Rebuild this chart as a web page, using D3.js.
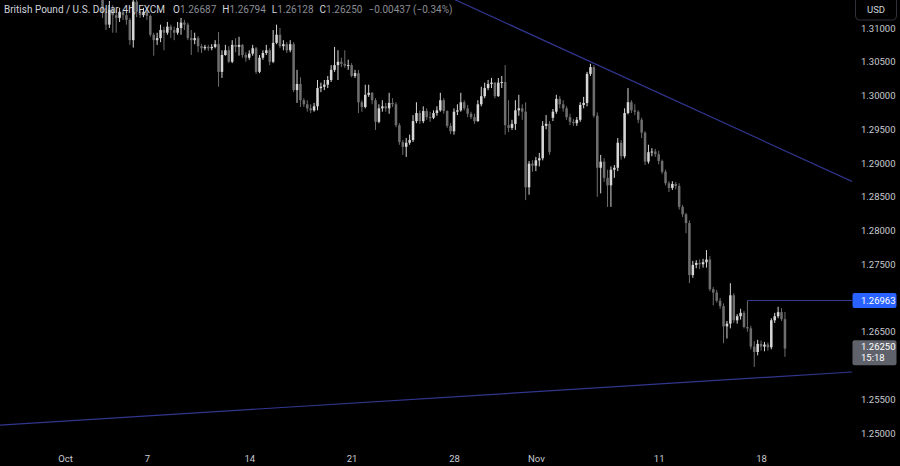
<!DOCTYPE html>
<html><head><meta charset="utf-8">
<script src="https://cdn.jsdelivr.net/npm/d3@7"></script>
<style>html,body{margin:0;padding:0;background:#000;}svg{display:block;}</style>
</head><body><svg id="c" width="900" height="466"></svg>
<script>
// ---- data ----
const firstBarIndex = 29; // bar index (4h bars counted from 26 Sep) of the first visible candle
const opens = [1.3160,1.3124,1.3105,1.3127,1.3119,1.3115,1.3124,1.3119,1.3112,1.3082,1.3139,1.3124,1.3119,1.3124,1.3118,1.3090,1.3082,1.3085,1.3097,1.3093,1.3102,1.3097,1.3093,1.3100,1.3108,1.3105,1.3085,1.3082,1.3085,1.3073,1.3070,1.3072,1.3070,1.3072,1.3076,1.3035,1.3060,1.3067,1.3050,1.3075,1.3072,1.3075,1.3060,1.3056,1.3062,1.3070,1.3035,1.3056,1.3063,1.3067,1.3050,1.3078,1.3090,1.3073,1.3076,1.3067,1.3076,1.3008,1.3017,1.2993,1.2987,1.2981,1.2978,1.2984,1.3011,1.3013,1.3016,1.3023,1.3038,1.3045,1.3050,1.3047,1.3044,1.3045,1.3029,1.3033,1.2990,1.2983,1.3001,1.3004,1.2993,1.2961,1.2981,1.2984,1.2981,1.2989,1.2987,1.2956,1.2931,1.2924,1.2930,1.2934,1.2962,1.2974,1.2962,1.2977,1.2968,1.2967,1.2974,1.2978,1.2993,1.2977,1.2955,1.2947,1.2976,1.2978,1.2990,1.2981,1.2973,1.2968,1.2962,1.2987,1.2999,1.3011,1.3017,1.3019,1.2999,1.3019,1.3020,1.2956,1.2952,1.2958,1.2978,1.2981,1.2976,1.2864,1.2899,1.2896,1.2904,1.2907,1.2955,1.2958,1.2967,1.2976,1.2995,1.2987,1.2981,1.2968,1.2961,1.2959,1.2964,1.2986,1.2989,1.3032,1.3042,1.2970,1.2893,1.2902,1.2878,1.2867,1.2890,1.2893,1.2930,1.2910,1.2974,1.2990,1.2978,1.2976,1.2964,1.2945,1.2902,1.2916,1.2917,1.2913,1.2903,1.2887,1.2870,1.2863,1.2869,1.2866,1.2835,1.2824,1.2811,1.2734,1.2749,1.2752,1.2750,1.2753,1.2757,1.2713,1.2708,1.2696,1.2688,1.2658,1.2662,1.2704,1.2667,1.2673,1.2678,1.2657,1.2655,1.2628,1.2620,1.2632,1.2628,1.2631,1.2627,1.2667,1.2673,1.2679,1.26687];
const highs = [1.3165,1.3130,1.3140,1.3134,1.3127,1.3130,1.3127,1.3124,1.3115,1.3150,1.3143,1.3127,1.3130,1.3127,1.3120,1.3093,1.3093,1.3105,1.3102,1.3109,1.3105,1.3102,1.3109,1.3115,1.3112,1.3108,1.3097,1.3093,1.3088,1.3076,1.3075,1.3075,1.3076,1.3082,1.3094,1.3067,1.3075,1.3073,1.3082,1.3085,1.3087,1.3076,1.3064,1.3067,1.3075,1.3072,1.3060,1.3067,1.3075,1.3070,1.3097,1.3105,1.3100,1.3082,1.3079,1.3082,1.3079,1.3038,1.3027,1.2996,1.2993,1.2987,1.2989,1.3023,1.3019,1.3023,1.3029,1.3045,1.3072,1.3067,1.3056,1.3067,1.3053,1.3048,1.3038,1.3038,1.2993,1.3016,1.3016,1.3005,1.2996,1.2987,1.2993,1.2989,1.3004,1.2996,1.2990,1.2959,1.2934,1.2937,1.2942,1.2971,1.2990,1.2978,1.2984,1.2981,1.2976,1.2978,1.2984,1.3004,1.2996,1.2978,1.2959,1.2981,1.2987,1.3004,1.2993,1.2986,1.2976,1.2973,1.2993,1.3013,1.3019,1.3023,1.3026,1.3020,1.3026,1.3029,1.3045,1.2993,1.2964,1.2993,1.3001,1.2987,1.2990,1.2903,1.2904,1.2909,1.2915,1.2962,1.2971,1.2962,1.2980,1.3001,1.2999,1.2993,1.2984,1.2973,1.2965,1.2968,1.2990,1.2998,1.3035,1.3047,1.3045,1.2975,1.2912,1.2907,1.2890,1.2895,1.2897,1.2937,1.2934,1.2981,1.3011,1.2993,1.2987,1.2978,1.2967,1.2947,1.2927,1.2922,1.2921,1.2918,1.2905,1.2890,1.2873,1.2873,1.2872,1.2870,1.2838,1.2826,1.2815,1.2755,1.2756,1.2757,1.2758,1.2771,1.2762,1.2716,1.2712,1.2700,1.2692,1.2666,1.2722,1.2707,1.2676,1.2684,1.2681,1.26963,1.2659,1.2636,1.2638,1.2637,1.2635,1.2634,1.2670,1.2678,1.2687,1.2685,1.26794];
const lows = [1.3115,1.3097,1.3100,1.3093,1.3093,1.3109,1.3112,1.3105,1.3075,1.3071,1.3116,1.3115,1.3116,1.3112,1.3087,1.3059,1.3075,1.3079,1.3067,1.3090,1.3085,1.3082,1.3090,1.3090,1.3097,1.3082,1.3060,1.3076,1.3064,1.3063,1.3067,1.3066,1.3067,1.3070,1.3013,1.3026,1.3059,1.3048,1.3048,1.3064,1.3059,1.3056,1.3050,1.3053,1.3059,1.3032,1.3033,1.3053,1.3060,1.3045,1.3048,1.3076,1.3070,1.3067,1.3063,1.3064,1.3005,1.2989,1.2983,1.2983,1.2976,1.2974,1.2976,1.2978,1.3005,1.3008,1.3011,1.3020,1.3035,1.3023,1.3042,1.3041,1.3038,1.3027,1.3026,1.2974,1.2976,1.2981,1.2998,1.2987,1.2949,1.2959,1.2976,1.2976,1.2973,1.2983,1.2953,1.2927,1.2912,1.2909,1.2927,1.2931,1.2959,1.2958,1.2959,1.2964,1.2961,1.2965,1.2970,1.2976,1.2973,1.2952,1.2943,1.2942,1.2971,1.2976,1.2978,1.2968,1.2965,1.2958,1.2961,1.2984,1.2996,1.3008,1.3011,1.2996,1.2998,1.3011,1.2942,1.2946,1.2949,1.2949,1.2970,1.2964,1.2845,1.2853,1.2887,1.2888,1.2895,1.2904,1.2950,1.2912,1.2962,1.2973,1.2981,1.2976,1.2964,1.2956,1.2955,1.2955,1.2961,1.2981,1.2984,1.3029,1.2967,1.2850,1.2855,1.2872,1.2835,1.2835,1.2878,1.2888,1.2905,1.2907,1.2972,1.2974,1.2971,1.2959,1.2937,1.2897,1.2899,1.2910,1.2909,1.2898,1.2884,1.2867,1.2857,1.2860,1.2861,1.2831,1.2820,1.2796,1.2722,1.2730,1.2744,1.2743,1.2745,1.2745,1.2710,1.2689,1.2693,1.2684,1.2633,1.2640,1.2655,1.2663,1.2662,1.2668,1.2655,1.2650,1.2624,1.2598,1.2615,1.2622,1.2621,1.2622,1.2624,1.2663,1.2670,1.2666,1.26128];
const closes = [1.3124,1.3105,1.3127,1.3119,1.3115,1.3124,1.3119,1.3112,1.3082,1.3139,1.3124,1.3119,1.3124,1.3118,1.3090,1.3082,1.3085,1.3097,1.3093,1.3102,1.3097,1.3093,1.3100,1.3108,1.3105,1.3085,1.3082,1.3085,1.3073,1.3070,1.3072,1.3070,1.3072,1.3076,1.3035,1.3060,1.3067,1.3050,1.3075,1.3072,1.3075,1.3060,1.3056,1.3062,1.3070,1.3035,1.3056,1.3063,1.3067,1.3050,1.3078,1.3090,1.3073,1.3076,1.3067,1.3076,1.3008,1.3017,1.2993,1.2987,1.2981,1.2978,1.2984,1.3011,1.3013,1.3016,1.3023,1.3038,1.3045,1.3050,1.3047,1.3044,1.3045,1.3029,1.3033,1.2990,1.2983,1.3001,1.3004,1.2993,1.2961,1.2981,1.2984,1.2981,1.2989,1.2987,1.2956,1.2931,1.2924,1.2930,1.2934,1.2962,1.2974,1.2962,1.2977,1.2968,1.2967,1.2974,1.2978,1.2993,1.2977,1.2955,1.2947,1.2976,1.2978,1.2990,1.2981,1.2973,1.2968,1.2962,1.2987,1.2999,1.3011,1.3017,1.3019,1.2999,1.3019,1.3020,1.2956,1.2952,1.2958,1.2978,1.2981,1.2976,1.2864,1.2899,1.2896,1.2904,1.2907,1.2955,1.2958,1.2916,1.2976,1.2995,1.2987,1.2981,1.2968,1.2961,1.2959,1.2964,1.2986,1.2989,1.3032,1.3042,1.2970,1.2893,1.2902,1.2878,1.2867,1.2890,1.2893,1.2930,1.2910,1.2974,1.2990,1.2978,1.2976,1.2964,1.2945,1.2902,1.2916,1.2917,1.2913,1.2903,1.2887,1.2870,1.2863,1.2869,1.2866,1.2835,1.2824,1.2811,1.2734,1.2749,1.2752,1.2750,1.2753,1.2757,1.2713,1.2708,1.2696,1.2688,1.2658,1.2662,1.2704,1.2667,1.2673,1.2678,1.2657,1.2655,1.2628,1.2620,1.2632,1.2628,1.2631,1.2627,1.2667,1.2673,1.2679,1.26687,1.26250];

const xTickIndex  = [18, 42, 72, 102, 132, 156, 192, 222];
const xTickLabels = ["Oct", "7", "14", "21", "28", "Nov", "11", "18"];
// 1.26000 and 1.27000 are hidden behind the price labels in the reference
const yTickValues = [1.25, 1.255, 1.265, 1.275, 1.28, 1.285, 1.29, 1.295, 1.30, 1.305, 1.31];

const upperTrend = [[172, 1.30500], [248, 1.28741]]; // [bar index, price]
const lowerTrend = [[0, 1.25121], [248, 1.25902]];
const levelLine  = [218, 1.26963];
const lastPrice = 1.26250, countdown = "15:18";
const titleText = "British Pound / U.S. Dollar, 4h, FXCM";
const legendKeys = ["O", "H", "L", "C"];
const legendVals = ["1.26687", "1.26794", "1.26128", "1.26250"];
const changeText = "\u22120.00437 (\u22120.34%)";

// ---- drawing ----
const W = 900, H = 466, plotRight = 852;
const svg = d3.select("#c");
const FONT = "Roboto, 'Liberation Sans', sans-serif";
svg.append("rect").attr("width", W).attr("height", H).attr("fill", "#000");

const x = d3.scaleLinear().domain([0, 250]).range([3.6, 3.6 + 250 * 3.412]);
const y = d3.scaleLinear().domain([1.25, 1.31]).range([433, 28]);

svg.append("clipPath").attr("id", "plot").append("rect")
  .attr("x", 0).attr("y", 0).attr("width", plotRight).attr("height", 448);
const plot = svg.append("g").attr("clip-path", "url(#plot)");

const bars = closes.map((c, k) => ({i: firstBarIndex + k, o: opens[k], h: highs[k], l: lows[k], c}));
const upCol = "#d6d6d6", dnCol = "#6e6e6e";
const bw = (x(1) - x(0)) * 0.74;

const cg = plot.append("g");
cg.selectAll("line.wick").data(bars).join("line").attr("class", "wick")
  .attr("x1", d => x(d.i)).attr("x2", d => x(d.i))
  .attr("y1", d => y(d.h)).attr("y2", d => y(d.l))
  .attr("stroke", d => d.c >= d.o ? upCol : dnCol).attr("stroke-width", 1);
cg.selectAll("rect.body").data(bars).join("rect").attr("class", "body")
  .attr("x", d => x(d.i) - bw / 2).attr("width", bw)
  .attr("y", d => y(Math.max(d.o, d.c)))
  .attr("height", d => Math.max(1, Math.abs(y(d.o) - y(d.c))))
  .attr("fill", d => d.c >= d.o ? upCol : dnCol);

function trendAt(t, i) {
  const [[i1, p1], [i2, p2]] = t;
  return p1 + (p2 - p1) * (i - i1) / (i2 - i1);
}
const lineCol = "#31378f";
[upperTrend, lowerTrend].forEach(t => {
  const a = x.invert(0), b = x.invert(plotRight);
  plot.append("line")
    .attr("x1", x(a)).attr("y1", y(trendAt(t, a)))
    .attr("x2", x(b)).attr("y2", y(trendAt(t, b)))
    .attr("stroke", lineCol).attr("stroke-width", 1.2);
});
plot.append("line")
  .attr("x1", x(levelLine[0])).attr("x2", plotRight)
  .attr("y1", y(levelLine[1])).attr("y2", y(levelLine[1]))
  .attr("stroke", "#353c8c").attr("stroke-width", 1.2);

// x axis
const xAxis = d3.axisBottom(x).tickValues(xTickIndex)
  .tickFormat((d, k) => xTickLabels[k]).tickSize(0).tickPadding(0);
const gx = svg.append("g").attr("transform", "translate(0,455)").call(xAxis);
gx.select(".domain").remove();
gx.selectAll("text").attr("fill", "#c8cbd2").attr("font-family", FONT).attr("font-size", "9.5px");

// y axis
const yAxis = d3.axisRight(y).tickValues(yTickValues)
  .tickFormat(d3.format(".5f")).tickSize(0).tickPadding(9);
const gy = svg.append("g").attr("transform", `translate(${plotRight},0)`).call(yAxis);
gy.select(".domain").remove();
gy.selectAll("text").attr("fill", "#c8cbd2").attr("font-family", FONT).attr("font-size", "9.5px");

// level label
const ly = y(levelLine[1]);
svg.append("rect").attr("x", plotRight + 0.5).attr("y", ly - 7.5).attr("width", 44).attr("height", 15)
  .attr("rx", 2).attr("fill", "#2962ff");
svg.append("text").attr("x", plotRight + 9).attr("y", ly).attr("dy", "0.35em")
  .attr("fill", "#fff").attr("font-family", FONT).attr("font-size", "9.5px").text(d3.format(".5f")(levelLine[1]));

// last price label
const py = y(lastPrice);
svg.append("rect").attr("x", plotRight + 0.5).attr("y", py - 8.5).attr("width", 44).attr("height", 25)
  .attr("rx", 2).attr("fill", "#5f626b");
svg.append("text").attr("x", plotRight + 9).attr("y", py - 1.5).attr("dy", "0.35em")
  .attr("fill", "#fff").attr("font-family", FONT).attr("font-size", "9.5px").text(d3.format(".5f")(lastPrice));
svg.append("text").attr("x", plotRight + 9).attr("y", py + 9.5).attr("dy", "0.35em")
  .attr("fill", "#fff").attr("font-family", FONT).attr("font-size", "9.5px").text(countdown);

// USD box
svg.append("rect").attr("x", 855.5).attr("y", -3).attr("width", 41).attr("height", 23)
  .attr("rx", 4).attr("fill", "#000").attr("stroke", "#2f323b");
svg.append("text").attr("x", 876).attr("y", 10).attr("dy", "0.35em").attr("text-anchor", "middle")
  .attr("fill", "#d1d4dc").attr("font-family", FONT).attr("font-size", "9.5px").text("USD");

// legend
const lg = svg.append("text").attr("x", 4).attr("y", 13)
  .attr("font-family", FONT).attr("font-size", "10px").attr("fill", "#d1d4dc");
lg.append("tspan").text(titleText);
legendKeys.forEach((k, j) => {
  lg.append("tspan").attr("dx", j === 0 ? 8 : 6).attr("fill", "#d1d4dc").text(k);
  lg.append("tspan").attr("fill", "#8a8d94").text(legendVals[j]);
});
lg.append("tspan").attr("dx", 6).attr("fill", "#8a8d94").text(changeText);
</script></body></html>
